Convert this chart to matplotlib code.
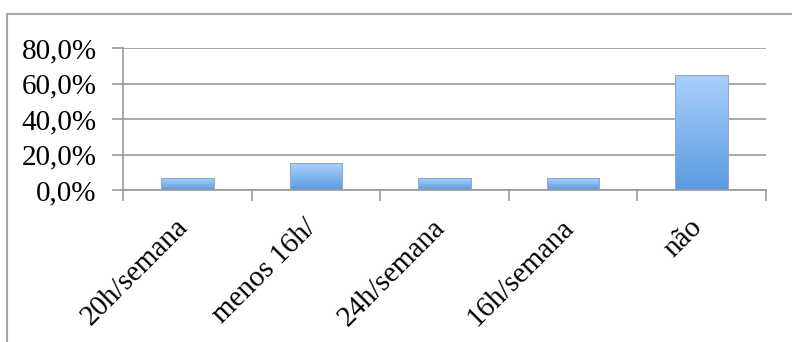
import numpy as np
import matplotlib
matplotlib.use("Agg")
import matplotlib.pyplot as plt
from matplotlib.patches import Rectangle
from matplotlib.colors import LinearSegmentedColormap
from matplotlib.ticker import FuncFormatter, FixedLocator
from matplotlib.transforms import ScaledTranslation

categories = ["20h/semana", "menos 16h/", "24h/semana", "16h/semana", "não"]
values = [0.067, 0.150, 0.067, 0.067, 0.650]
yticks = [0.0, 0.2, 0.4, 0.6, 0.8]

plt.rcParams['font.family'] = ['Liberation Serif', 'DejaVu Serif']

fig = plt.figure(figsize=(7.92, 3.42), dpi=100)
fig.patch.set_facecolor('white')

# outer chart frame (clipped by figure edges)
frame = Rectangle((7/792, -0.05), 1.1, (342-14)/342 + 0.05, transform=fig.transFigure,
                  fill=False, edgecolor='#a6a6a6', linewidth=1.5, clip_on=False)
fig.patches.append(frame)

ax = fig.add_axes([123/792, (342-190)/342, (766-123)/792, (190-48)/342])
x = np.arange(len(categories))
bars = ax.bar(x, values, width=0.41, color='none', edgecolor='#8fa9c8', linewidth=0.8, zorder=3)

cmap = LinearSegmentedColormap.from_list('g', ['#5b9be0', '#abd0fd'])
grad = np.linspace(0, 1, 256).reshape(-1, 1)
for b in bars:
    x0, y0, w, h = b.get_x(), b.get_y(), b.get_width(), b.get_height()
    im = ax.imshow(grad, cmap=cmap, aspect='auto', origin='lower',
                   extent=[x0, x0 + w, y0, y0 + h], zorder=2)
    im.set_clip_path(b)

ax.set_xlim(-0.5, len(categories) - 0.5)
ax.set_ylim(0, 0.8)
ax.yaxis.set_major_locator(FixedLocator(yticks))
ax.yaxis.set_major_formatter(FuncFormatter(lambda v, p: f"{v*100:.1f}%".replace('.', ',')))
ax.grid(axis='y', color='#999999', linewidth=1.2, zorder=1)
ax.set_axisbelow(True)

for s in ['top', 'right']:
    ax.spines[s].set_visible(False)
for s in ['left', 'bottom']:
    ax.spines[s].set_color('#999999')
    ax.spines[s].set_linewidth(1.2)

# boundary ticks on x axis, labels at centers
ax.set_xticks(np.arange(len(categories) + 1) - 0.5)
ax.set_xticklabels([])
ax.tick_params(axis='x', which='major', length=8, color='#999999', width=1.2)
ax.tick_params(axis='y', length=8, color='#999999', width=1.2, labelsize=21, pad=11)

offset = ScaledTranslation(6/100, -24/100, fig.dpi_scale_trans)
for i, c in enumerate(categories):
    ax.text(i, 0, c, transform=ax.get_xaxis_transform() + offset,
            rotation=45, ha='right', va='top', fontsize=21, color='black')

fig.savefig('out.png', dpi=100, facecolor='white')
